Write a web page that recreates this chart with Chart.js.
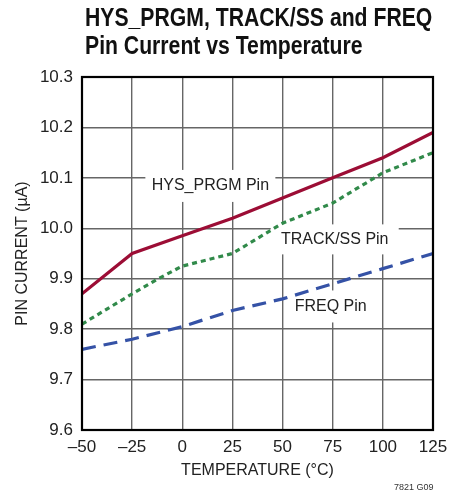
<!DOCTYPE html>
<html lang="en">
<head>
  <meta charset="UTF-8" />
  <title>HYS_PRGM, TRACK/SS and FREQ Pin Current vs Temperature</title>
  <script src="https://cdn.jsdelivr.net/npm/chart.js@4.4.0/dist/chart.umd.min.js"></script>
  <style>
    html, body { margin: 0; padding: 0; background: #fff; }
    #wrap { position: relative; width: 465px; height: 492px; overflow: hidden; }
    #title {
      position: absolute; left: 85px; top: 3px;
      font-family: 'Liberation Sans', Arial, sans-serif;
      font-weight: bold; font-size: 26px; line-height: 28px; color: #111;
      white-space: nowrap;
      transform: scaleX(0.815); transform-origin: 0 0;
    }
    #code {
      position: absolute; left: 394px; top: 482px;
      font-family: 'Liberation Sans', Arial, sans-serif; font-size: 9px; color: #333;
    }
  </style>
</head>
<body>
<div id="wrap">
  <canvas id="chart" width="465" height="492"></canvas>
  <div id="title">HYS_PRGM, TRACK/SS and FREQ<br>Pin Current vs Temperature</div>
  <div id="code">7821 G09</div>
</div>
<script>
  const hysTemps = [-50, -25, 0, 25, 50, 75, 100, 125];
  const hysCurrent = [9.87, 9.95, 9.985, 10.02, 10.06, 10.10, 10.14, 10.19];

  const trackTemps = [-50, -25, -12, 0, 25, 50, 75, 100, 125];
  const trackCurrent = [9.81, 9.87, 9.90, 9.925, 9.95, 10.01, 10.05, 10.11, 10.15];

  const freqTemps = [-50, -25, 0, 25, 50, 75, 100, 125];
  const freqCurrent = [9.76, 9.78, 9.805, 9.837, 9.86, 9.89, 9.92, 9.95];

  const seriesNames = ['HYS_PRGM Pin', 'TRACK/SS Pin', 'FREQ Pin'];

  const FONT = "'Liberation Sans', Arial, sans-serif";
  const pts = (xs, ys) => xs.map((x, i) => ({ x, y: ys[i] }));

  // white-boxed in-plot labels, anchored in data units
  const inlineLabels = {
    id: 'inlineLabels',
    beforeDatasetsDraw(chart) {
      const { ctx, scales: { x, y } } = chart;
      const spots = [
        { t: seriesNames[0], x: 14, y: 10.084, w: 130, h: 32 },
        { t: seriesNames[1], x: 76, y: 9.978, w: 128, h: 30 },
        { t: seriesNames[2], x: 74, y: 9.845, w: 80, h: 32 }
      ];
      ctx.save();
      ctx.font = '16px ' + FONT;
      ctx.textAlign = 'center';
      ctx.textBaseline = 'middle';
      spots.forEach(s => {
        const px = x.getPixelForValue(s.x), py = y.getPixelForValue(s.y);
        ctx.fillStyle = '#fff';
        ctx.fillRect(px - s.w / 2, py - s.h / 2, s.w, s.h);
        ctx.fillStyle = '#222';
        ctx.fillText(s.t, px, py);
      });
      ctx.restore();
    },
    afterDraw(chart) {
      const { ctx, chartArea: a } = chart;
      ctx.save();
      ctx.strokeStyle = '#000';
      ctx.lineWidth = 2.2;
      ctx.strokeRect(a.left, a.top, a.right - a.left, a.bottom - a.top);
      ctx.restore();
    }
  };

  new Chart(document.getElementById('chart'), {
    type: 'line',
    data: {
      datasets: [
        { label: seriesNames[0], data: pts(hysTemps, hysCurrent), borderColor: '#9c0d35', borderWidth: 3.2 },
        { label: seriesNames[1], data: pts(trackTemps, trackCurrent), borderColor: '#318a4a', borderWidth: 3.2, borderDash: [5, 4] },
        { label: seriesNames[2], data: pts(freqTemps, freqCurrent), borderColor: '#3552a6', borderWidth: 3.2, borderDash: [14, 8] }
      ]
    },
    options: {
      responsive: false,
      animation: false,
      events: [],
      elements: { point: { radius: 0 }, line: { tension: 0, borderCapStyle: 'butt' } },
      layout: { padding: { left: 0, right: 32, top: 77, bottom: 0 } },
      plugins: { legend: { display: false }, tooltip: { enabled: false } },
      scales: {
        x: {
          type: 'linear', min: -50, max: 125,
          afterFit: s => { s.height = 62; },
          ticks: {
            stepSize: 25, color: '#222', padding: 7,
            font: { family: FONT, size: 17 },
            callback: v => String(v).replace('-', '\u2013')
          },
          grid: { color: '#666', lineWidth: 1.4, drawTicks: false },
          border: { display: false },
          title: { display: true, text: 'TEMPERATURE (\u00B0C)', color: '#222', font: { family: FONT, size: 16 }, padding: { top: 0, bottom: 12 } }
        },
        y: {
          min: 9.6, max: 10.3,
          afterFit: s => { s.width = 82; },
          ticks: {
            stepSize: 0.1, color: '#222', padding: 9,
            font: { family: FONT, size: 17 },
            callback: v => v.toFixed(1)
          },
          grid: { color: '#666', lineWidth: 1.4, drawTicks: false },
          border: { display: false },
          title: { display: true, text: 'PIN CURRENT (\u00B5A)', color: '#222', font: { family: FONT, size: 16 }, padding: { top: 13, bottom: 0 } }
        }
      }
    },
    plugins: [inlineLabels]
  });
</script>
</body>
</html>
